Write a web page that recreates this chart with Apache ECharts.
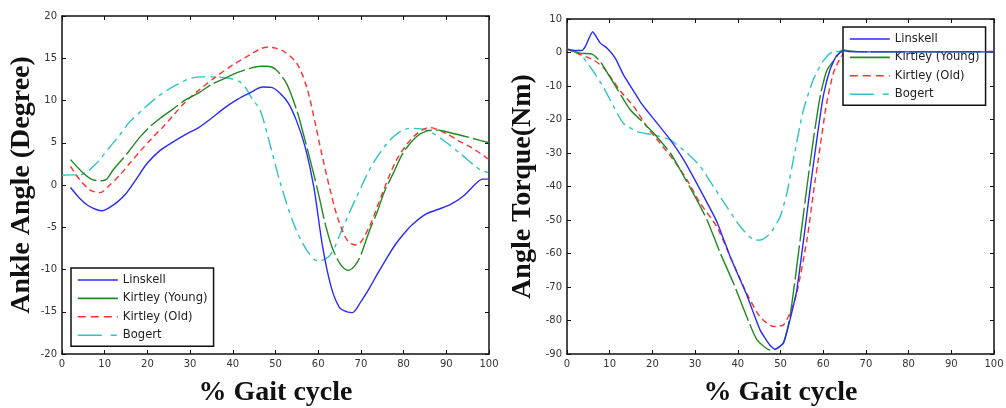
<!DOCTYPE html>
<html><head><meta charset="utf-8">
<script src="https://cdn.jsdelivr.net/npm/echarts@6/dist/echarts.min.js"></script>
<style>html,body{margin:0;padding:0;background:#fff}#c{width:1006px;height:408px}</style>
</head><body><div id="c"></div>
<script>
// ---------- Data: left chart (Ankle Angle, degree) ----------
const seriesNames = ['Linskell', 'Kirtley (Young)', 'Kirtley (Old)', 'Bogert'];
const xTicks = [0, 10, 20, 30, 40, 50, 60, 70, 80, 90, 100];
const angleTicks = [-20, -15, -10, -5, 0, 5, 10, 15, 20];
const torqueTicks = [-90, -80, -70, -60, -50, -40, -30, -20, -10, 0, 10];

const angLinskellX = [2,4,6,8,9.5,11,13,15,17,20,23,26,29,32,35,38,41,44,47,49,51,53,55,57,59,61,63,65,67,68,70,72,74,76,78,80,82,85,88,91,94,97,98.5,100];
const angLinskellY = [-0.3,-1.5,-2.4,-2.9,-3.05,-2.7,-2.0,-1.0,0.4,2.6,4.1,5.1,6.0,6.8,7.9,9.1,10.1,10.9,11.6,11.55,10.9,9.7,7.5,4.4,-0.3,-7.2,-12.0,-14.5,-15.05,-15.1,-13.8,-12.2,-10.4,-8.7,-7.1,-5.8,-4.7,-3.5,-2.9,-2.3,-1.3,0.2,0.7,0.7];

const angYoungX = [2,5,7.3,9.3,10.5,12,15.2,18.3,20.6,23,26,29,32,35,38,41,44,46.5,48,50,52.6,55,56.5,58.9,60.4,61.6,63.2,65.1,67,68.5,69.8,72,73.7,75.5,77.6,80,83,85.5,88,90,94,97,100];
const angYoungY = [3.0,1.4,0.6,0.5,0.7,1.8,3.7,5.7,6.9,7.9,9.0,10.1,10.9,11.9,12.6,13.3,13.8,14.05,14.05,13.7,12.0,8.8,6.1,1.4,-1.8,-4.5,-7.3,-9.3,-10.1,-9.6,-8.5,-5.4,-3.35,-0.8,1.4,3.9,5.7,6.4,6.5,6.3,5.8,5.4,5.0];

const angOldX = [2,4.2,6.6,8.9,11.2,13.6,15.9,18.3,21,23.7,26,29,32,36,40,44,46.4,48,50,52,55,57.3,59.3,60.8,62.8,64.7,67,69,72,75,78.4,82.3,86,90,93,96.3,100];
const angOldY = [2.2,0.6,-0.6,-0.9,0,1.2,2.6,4.0,5.5,6.9,8.2,9.9,11.2,12.8,14.2,15.4,16.1,16.3,16.2,15.8,14.4,11.6,7.3,3.75,-0.6,-4.1,-6.7,-7.1,-4.9,-1.0,3.0,5.7,6.8,6.1,5.2,4.3,3.0];

const angBogertX = [0,2,4.2,6,7.3,8.5,11.2,13.2,15.9,19.1,22,24.6,27,30,33,35.5,39.4,41.7,43,44.8,46.4,48.7,51.1,54.2,57.3,60,62.8,65.9,69,72.9,77.6,81.5,85.4,89.3,93.2,97.9,99.8];
const angBogertY = [1.15,1.2,1.2,1.6,2.2,2.8,4.5,5.7,7.5,9.0,10.3,11.2,11.9,12.6,12.8,12.8,12.6,12.2,11.5,10.0,8.9,4.8,0.3,-4.5,-7.7,-9.0,-8.3,-4.9,-1.4,2.6,5.7,6.7,6.5,5.3,3.75,1.8,1.5];

// ---------- Data: right chart (Angle Torque, Nm) ----------
const torLinskellX = [0,2,3.5,4.3,6,7.8,9.4,11.3,13.2,15.6,17.2,18.7,21.1,24.2,27.3,31.2,35.1,38.2,42.1,45.2,47.5,48.7,50.7,52.2,53.8,55.4,56.9,58.5,60,61.6,63.1,64.7,66,70,80,90,100];
const torLinskellY = [1.0,0.6,0.6,1.8,6.2,2.8,1.3,-1.65,-6.6,-11.5,-14.8,-17.3,-21.1,-26.1,-32,-41,-50.5,-60.9,-72.4,-82.8,-87.3,-88.6,-86.8,-79.9,-71,-56,-41,-26,-13.1,-5.1,-1,0.5,0.3,0.2,0.2,0.2,0.2];

const torYoungX = [0,3.1,5.9,7.8,9,10.9,14.8,17.2,20.3,24.2,26.5,30.4,32.8,35.9,39,42.1,44.5,47.6,49,50.7,52.2,54.6,56.2,57.7,59.3,60.8,62.4,64.7,66,70,80,90,100];
const torYoungY = [1.0,-0.2,-0.5,-2.7,-5.1,-9.1,-17.1,-20.1,-24.1,-30,-35,-44,-50,-59.9,-68.9,-78.9,-85.8,-88.8,-88.5,-86.5,-79,-56,-40,-26,-13,-5.5,-2.5,0.8,0.5,0.2,0.2,0.2,0.2];

const torOldX = [0,3.1,6.2,8.6,10.9,12.5,15.6,18.7,21.8,24.9,28.1,31.2,35.1,38.2,42.1,45.2,48.4,50.7,52.2,53.8,56.2,57.7,59.3,60.8,62.4,64,65.5,70,80,90,100];
const torOldY = [1.0,-0.6,-2.2,-4.6,-8.6,-11.5,-16.1,-22.1,-27.1,-32,-38,-45,-52,-60.9,-71.9,-78.9,-81.8,-81.3,-77.8,-71.9,-55.9,-42,-28,-15.1,-6.1,-1.65,0.4,0.3,0.3,0.3,0.3];

const torBogertX = [0,3.1,3.9,6.2,8.6,10.9,13.2,16.4,20.3,24.2,28.1,31.2,34.3,37.4,40.6,43.7,45.2,47.6,49.9,51.5,53,55.3,57.7,60,62.4,65,70,80,90,100];
const torBogertY = [1.0,-0.6,-1.65,-5.7,-10.5,-16.1,-21.1,-23.6,-24.6,-26.1,-30,-34,-40,-46,-52,-55.9,-56,-54,-49,-42,-32,-17.5,-8,-2.5,0.3,0.3,0.2,0.2,0.2,0.2];

// ---------- Styles ----------
const colors = ['#2a2aff', '#1f8a1f', '#ff3030', '#2cc4c4'];
const plotDash = ['solid', [34, 4], [6, 4], [14, 5, 4, 5]];
const legendDash = ['solid', 'solid', [8, 5], [24, 9, 6, 100]];

const pairs = (xs, ys) => xs.map((x, i) => [x, ys[i]]);

const chart = echarts.init(document.getElementById('c'), null, {renderer: 'canvas'});

const sansFont = 'DejaVu Sans, Verdana, sans-serif';
const axisLine = {onZero: false, lineStyle: {color: '#111', width: 1.5}};
const axisTick = {inside: true, length: 4, lineStyle: {color: '#111', width: 1}};
const labelStyle = {fontSize: 10, color: '#333', fontFamily: sansFont};
const titleStyle = {fontFamily: 'Liberation Serif, Times New Roman, serif', fontWeight: 'bold', fontSize: 28, color: '#111'};

function xAxisPair(gi) {
  return [
    {type: 'value', gridIndex: gi, min: xTicks[0], max: xTicks[xTicks.length - 1], interval: xTicks[1] - xTicks[0],
     position: 'bottom', name: '% Gait cycle', nameLocation: 'middle', nameGap: 25, nameTextStyle: titleStyle,
     axisLine, axisTick, axisLabel: Object.assign({margin: 5}, labelStyle), splitLine: {show: false}},
    {type: 'value', gridIndex: gi, min: xTicks[0], max: xTicks[xTicks.length - 1], interval: xTicks[1] - xTicks[0],
     position: 'top', axisLine, axisTick, axisLabel: {show: false}, splitLine: {show: false}}
  ];
}
function yAxisPair(gi, ticks, name, gap) {
  return [
    {type: 'value', gridIndex: gi, min: ticks[0], max: ticks[ticks.length - 1], interval: ticks[1] - ticks[0],
     position: 'left', name, nameLocation: 'middle', nameGap: gap, nameTextStyle: titleStyle,
     axisLine, axisTick, axisLabel: Object.assign({margin: 5}, labelStyle), splitLine: {show: false}},
    {type: 'value', gridIndex: gi, min: ticks[0], max: ticks[ticks.length - 1], interval: ticks[1] - ticks[0],
     position: 'right', axisLine, axisTick, axisLabel: {show: false}, splitLine: {show: false}}
  ];
}

function mkSeries(name, idx, data, xi, yi, smooth) {
  return {type: 'line', name, data, xAxisIndex: xi, yAxisIndex: yi, symbol: 'none', smooth,
          color: colors[idx], lineStyle: {color: colors[idx], width: 1.4, type: plotDash[idx]}, z: 2 + (3 - idx)};
}

function legendFor(pos) {
  return Object.assign({
    orient: 'vertical', itemWidth: 40, itemHeight: 14, itemGap: 4.4,
    padding: [5, 6, 4, 6], backgroundColor: '#fff', borderColor: '#111', borderWidth: 1.5, borderRadius: 0,
    textStyle: {fontSize: 11.6, lineHeight: 14, color: '#222', fontFamily: sansFont},
    selectedMode: false,
    data: seriesNames.map((n, i) => ({name: n, itemStyle: {opacity: 0}, lineStyle: {type: legendDash[i], width: 1.6}}))
  }, pos);
}

const option = {
  animation: false,
  backgroundColor: '#fff',
  grid: [
    {left: 62, top: 16, width: 427, height: 338, outerBoundsMode: 'none', containLabel: false},
    {left: 567, top: 19, width: 427, height: 335, outerBoundsMode: 'none', containLabel: false}
  ],
  xAxis: [...xAxisPair(0), ...xAxisPair(1)],
  yAxis: [...yAxisPair(0, angleTicks, 'Ankle Angle (Degree)', 26), ...yAxisPair(1, torqueTicks, 'Angle Torque(Nm)', 30)],
  legend: [legendFor({left: 71, top: 268}), legendFor({left: 843, top: 27})],
  series: [
    mkSeries(seriesNames[0], 0, pairs(angLinskellX, angLinskellY), 0, 0, 0.3),
    mkSeries(seriesNames[1], 1, pairs(angYoungX, angYoungY), 0, 0, 0.3),
    mkSeries(seriesNames[2], 2, pairs(angOldX, angOldY), 0, 0, 0.3),
    mkSeries(seriesNames[3], 3, pairs(angBogertX, angBogertY), 0, 0, 0.3),
    mkSeries(seriesNames[0], 0, pairs(torLinskellX, torLinskellY), 2, 2, 0.15),
    mkSeries(seriesNames[1], 1, pairs(torYoungX, torYoungY), 2, 2, 0.2),
    mkSeries(seriesNames[2], 2, pairs(torOldX, torOldY), 2, 2, 0.2),
    mkSeries(seriesNames[3], 3, pairs(torBogertX, torBogertY), 2, 2, 0.2)
  ]
};
chart.setOption(option);
</script></body></html>
